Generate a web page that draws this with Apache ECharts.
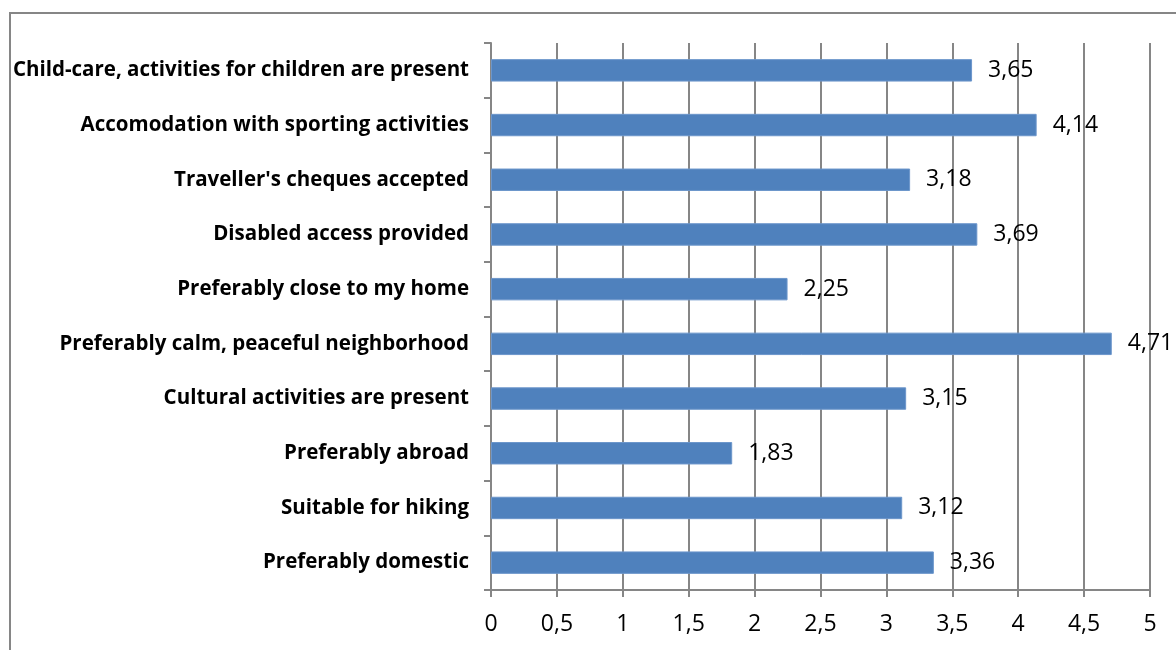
<!DOCTYPE html>
<html><head><meta charset="utf-8">
<script src="https://cdn.jsdelivr.net/npm/echarts@6/dist/echarts.min.js"></script>
<style>
html,body{margin:0;padding:0;background:#fff;}
#frame{position:absolute;left:9px;top:12px;width:1200px;height:700px;border:2px solid #868686;box-sizing:border-box;}
#c{position:absolute;left:0;top:0;width:1176px;height:650px;}
</style></head>
<body>
<div id="frame"></div>
<div id="c"></div>
<script>
const categories = [
  "Child-care, activities for children are present",
  "Accomodation with sporting activities",
  "Traveller's cheques accepted",
  "Disabled access provided",
  "Preferably close to my home",
  "Preferably calm, peaceful neighborhood",
  "Cultural activities are present",
  "Preferably abroad",
  "Suitable for hiking",
  "Preferably domestic"
];
const values = [3.65, 4.14, 3.18, 3.69, 2.25, 4.71, 3.15, 1.83, 3.12, 3.36];

const chart = echarts.init(document.getElementById('c'), null, {renderer:'canvas'});
const fmt = v => String(v).replace('.', ',');
chart.setOption({
  animation:false,
  backgroundColor:'transparent',
  grid:{left:491, right:26, top:43, bottom:60, containLabel:false},
  xAxis:{
    type:'value', min:0, max:5, interval:0.5,
    axisLine:{show:true, lineStyle:{color:'#868686', width:2}},
    axisTick:{show:true, length:7, lineStyle:{color:'#868686', width:2}},
    splitLine:{show:true, lineStyle:{color:'#868686', width:2}},
    axisLabel:{color:'#000', fontSize:23, fontFamily:'Open Sans', margin:23, formatter:v=>fmt(v)}
  },
  yAxis:{
    type:'category', data:categories, inverse:true,
    axisLine:{show:true, lineStyle:{color:'#868686', width:2}},
    axisTick:{show:true, length:7, lineStyle:{color:'#868686', width:2}},
    axisLabel:{color:'#000', fontSize:20.5, fontWeight:'bold', fontFamily:'Open Sans', margin:22}
  },
  series:[{
    type:'bar', data:values, barWidth:'41%',
    itemStyle:{color:'#4F81BD', borderColor:'#6C96CB', borderWidth:1},
    label:{show:true, position:'right', distance:16, color:'#000', fontSize:23, fontFamily:'Open Sans', formatter:p=>fmt(p.value)}
  }]
});
</script>
</body></html>
